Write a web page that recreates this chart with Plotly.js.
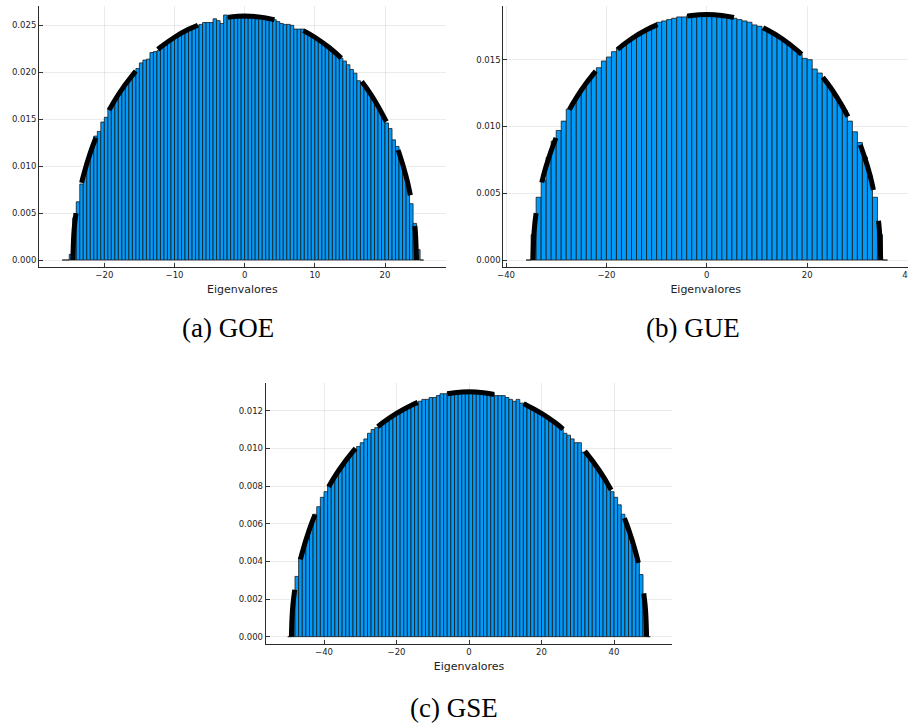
<!DOCTYPE html>
<html>
<head>
<meta charset="utf-8">
<script src="https://cdn.plot.ly/plotly-3.0.1.min.js"></script>
<style>
  html, body { margin: 0; padding: 0; background: #ffffff; }
  #chart { width: 908px; height: 726px; }
</style>
</head>
<body>
<div id="chart"></div>
<script>
// Normalised eigenvalue histograms for the three Gaussian ensembles,
// each with its Wigner semicircle drawn as a thick dashed line.

// GOE: bins of width 0.5 starting at -26
const goeBinStart = -26;
const goeBinWidth = 0.5;
const goeDensity = [
  0, 0, 0.0006, 0.0045, 0.0062, 0.0081, 0.0096, 0.0108, 0.0119, 0.0132,
  0.0137, 0.0147, 0.0152, 0.0162, 0.0167, 0.0173, 0.0179, 0.0184, 0.0190, 0.0194,
  0.0199, 0.0204, 0.0210, 0.0213, 0.0214, 0.0221, 0.0222, 0.0223, 0.0228, 0.0231,
  0.0234, 0.0236, 0.0238, 0.0241, 0.0243, 0.0245, 0.0247, 0.0248, 0.0250, 0.0251,
  0.0253, 0.0253, 0.0253, 0.0257, 0.0255, 0.0252, 0.0261, 0.0259, 0.0258, 0.0258,
  0.0259, 0.0258,
  0.0258, 0.0258, 0.0258, 0.0257, 0.0258, 0.0257, 0.0257, 0.0256, 0.0256, 0.0254,
  0.0252, 0.0251, 0.0251, 0.0250, 0.0246, 0.0246, 0.0246, 0.0244, 0.0241, 0.0239,
  0.0236, 0.0234, 0.0231, 0.0228, 0.0225, 0.0222, 0.0219, 0.0215, 0.0212, 0.0208,
  0.0203, 0.0199, 0.0191, 0.0189, 0.0184, 0.0179, 0.0173, 0.0167, 0.0161, 0.0154,
  0.0146, 0.0140, 0.0128, 0.0121, 0.0109, 0.0096, 0.0082, 0.0060, 0.0039, 0.0011,
  0
];
const goeCurveX = [-24.49, -24.3, -24, -23.5, -23, -22, -21, -20, -18, -16, -14, -12, -10, -8, -6, -4, -2,
  0, 2, 4, 6, 8, 10, 12, 14, 16, 18, 20, 21, 22, 23, 23.5, 24, 24.3, 24.49];
const goeCurveY = [0, 0.00327, 0.00520, 0.00733, 0.00894, 0.01143, 0.01338, 0.01501, 0.01763, 0.01968,
  0.02133, 0.02266, 0.02373, 0.02457, 0.02520, 0.02564, 0.02590, 0.02599,
  0.02590, 0.02564, 0.02520, 0.02457, 0.02373, 0.02266, 0.02133, 0.01968, 0.01763, 0.01501,
  0.01338, 0.01143, 0.00894, 0.00733, 0.00520, 0.00327, 0];

// GUE: bins of width 1 starting at -36
const gueBinStart = -36;
const gueBinWidth = 1;
const gueDensity = [
  0, 0.0019, 0.0047, 0.0060, 0.0077, 0.0089, 0.0097, 0.0104, 0.0113, 0.0118,
  0.0124, 0.0129, 0.0135, 0.0140, 0.0144, 0.0149, 0.0152, 0.0156, 0.0159, 0.0162,
  0.0164, 0.0167, 0.0169, 0.0171, 0.0173, 0.0175, 0.0178, 0.0179, 0.0180, 0.0181,
  0.0182, 0.0182, 0.0183, 0.0183, 0.0184, 0.0183, 0.0183, 0.0183, 0.0182, 0.0182,
  0.0182, 0.0181, 0.0180, 0.0179, 0.0178, 0.0176, 0.0175, 0.0173, 0.0171, 0.0169,
  0.0167, 0.0164, 0.0161, 0.0158, 0.0154, 0.0151, 0.0150, 0.0143, 0.0140, 0.0135,
  0.0130, 0.0124, 0.0118, 0.0112, 0.0104, 0.0096, 0.0088, 0.0077, 0.0063, 0.0047,
  0.0019, 0
];
const gueCurveX = [-34.64, -34.4, -34, -33, -32, -30, -28, -26, -24, -21, -18, -15, -12, -9, -6, -3,
  0, 3, 6, 9, 12, 15, 18, 21, 24, 26, 28, 30, 32, 33, 34, 34.4, 34.64];
const gueCurveY = [0, 0.00216, 0.00352, 0.00559, 0.00704, 0.00919, 0.01082, 0.01214, 0.01325, 0.01462,
  0.01570, 0.01657, 0.01724, 0.01775, 0.01810, 0.01831, 0.01838,
  0.01831, 0.01810, 0.01775, 0.01724, 0.01657, 0.01570, 0.01462, 0.01325, 0.01214, 0.01082,
  0.00919, 0.00704, 0.00559, 0.00352, 0.00216, 0];

// GSE: bins of width 1 starting at -50
const gseBinStart = -50;
const gseBinWidth = 1;
const gseDensity = [
  0, 0.0018, 0.0032, 0.0042, 0.0048, 0.0054, 0.0060, 0.0065, 0.0069, 0.0074,
  0.0077, 0.0080, 0.0084, 0.0087, 0.0090, 0.0092, 0.0095, 0.0097, 0.0099, 0.0101,
  0.0103, 0.0105, 0.0108, 0.0110, 0.0111, 0.0112, 0.0114, 0.0115, 0.0117, 0.0118,
  0.0119, 0.0120, 0.0121, 0.0122, 0.0123, 0.0124, 0.0125, 0.0126, 0.0126, 0.0127,
  0.0127, 0.0128, 0.0129, 0.0129, 0.0130, 0.0129, 0.0130, 0.0129, 0.0130, 0.0129,
  0.0130, 0.0129, 0.0129, 0.0130, 0.0129, 0.0128, 0.0129, 0.0128, 0.0128, 0.0128,
  0.0127, 0.0126, 0.0125, 0.0126, 0.0124, 0.0124, 0.0122, 0.0121, 0.0120, 0.0119,
  0.0118, 0.0117, 0.0115, 0.0114, 0.0112, 0.0111, 0.0108, 0.0107, 0.0105, 0.0103,
  0.0103, 0.0098, 0.0098, 0.0095, 0.0092, 0.0090, 0.0087, 0.0083, 0.0080, 0.0077,
  0.0074, 0.0070, 0.0065, 0.0059, 0.0054, 0.0048, 0.0041, 0.0033, 0.0018, 0
];
const gseCurveX = [-48.99, -48.7, -48, -47, -46, -44, -42, -39, -36, -32, -28, -24, -20, -16, -12, -8, -4,
  0, 4, 8, 12, 16, 20, 24, 28, 32, 36, 39, 42, 44, 46, 47, 48, 48.7, 48.99];
const gseCurveY = [0, 0.00141, 0.00260, 0.00367, 0.00447, 0.00571, 0.00669, 0.00786, 0.00881, 0.00984,
  0.01066, 0.01133, 0.01186, 0.01228, 0.01260, 0.01282, 0.01295, 0.01300,
  0.01295, 0.01282, 0.01260, 0.01228, 0.01186, 0.01133, 0.01066, 0.00984, 0.00881, 0.00786,
  0.00669, 0.00571, 0.00447, 0.00367, 0.00260, 0.00141, 0];

const captions = ['(a) GOE', '(b) GUE', '(c) GSE'];
const axisTitle = 'Eigenvalores';

const BAR_BLUE = '#009AFA';

function binCenters(start, width, n) {
  const out = [];
  for (let i = 0; i < n; i++) out.push(start + width * (i + 0.5));
  return out;
}

function histTrace(start, width, dens, xa, ya) {
  return {
    type: 'bar',
    x: binCenters(start, width, dens.length),
    y: dens,
    width: width,
    marker: { color: BAR_BLUE, line: { color: '#1a1a1a', width: 0.8 } },
    xaxis: xa, yaxis: ya,
    hoverinfo: 'skip'
  };
}

function curveTrace(cx, cy, xa, ya) {
  return {
    type: 'scatter', mode: 'lines',
    x: cx, y: cy,
    line: { color: '#000000', width: 5, dash: '47px,31px', shape: 'spline', smoothing: 1 },
    xaxis: xa, yaxis: ya,
    hoverinfo: 'skip'
  };
}

const data = [
  histTrace(goeBinStart, goeBinWidth, goeDensity, 'x', 'y'),
  curveTrace(goeCurveX, goeCurveY, 'x', 'y'),
  histTrace(gueBinStart, gueBinWidth, gueDensity, 'x2', 'y2'),
  curveTrace(gueCurveX, gueCurveY, 'x2', 'y2'),
  histTrace(gseBinStart, gseBinWidth, gseDensity, 'x3', 'y3'),
  curveTrace(gseCurveX, gseCurveY, 'x3', 'y3')
];

const tickFont = { family: 'DejaVu Sans, sans-serif', size: 8.5, color: '#222222' };

function baseAxis(extra) {
  return Object.assign({
    showline: true, linecolor: '#2a2a2a', linewidth: 1, mirror: false,
    ticks: 'inside', ticklen: 4, tickwidth: 1, tickcolor: '#333333',
    showgrid: true, gridcolor: 'rgba(0,0,0,0.08)', gridwidth: 1,
    zeroline: false, tickfont: tickFont, fixedrange: true
  }, extra);
}

function xTitle() {
  return { text: axisTitle, font: { family: 'DejaVu Sans, sans-serif', size: 11, color: '#222222' }, standoff: 6 };
}

const H = 726, W = 908;
const py = v => 1 - v / H;
const px = v => v / W;

const captionFont = { family: 'Liberation Serif, serif', size: 27, color: '#000000' };

const layout = {
  width: W, height: H,
  margin: { l: 0, r: 0, t: 0, b: 0, pad: 0 },
  paper_bgcolor: '#ffffff', plot_bgcolor: '#ffffff',
  showlegend: false, bargap: 0, barmode: 'overlay',
  font: { family: 'DejaVu Sans, sans-serif' },
  xaxis: baseAxis({ domain: [px(39), px(445.7)], range: [-29.31, 28.65], tickvals: [-20, -10, 0, 10, 20], anchor: 'y', title: xTitle() }),
  yaxis: baseAxis({ domain: [py(266.7), py(6)], range: [-0.000714, 0.02706], tickvals: [0, 0.005, 0.010, 0.015, 0.020, 0.025], tickformat: '.3f', anchor: 'x' }),
  xaxis2: baseAxis({ domain: [px(503.3), 1], range: [-40.54, 40.08], tickvals: [-40, -20, 0, 20, 40], anchor: 'y2', title: xTitle(), ticklabeloverflow: 'allow' }),
  yaxis2: baseAxis({ domain: [py(266.7), py(6)], range: [-0.000499, 0.019019], tickvals: [0, 0.005, 0.010, 0.015], tickformat: '.3f', anchor: 'x2' }),
  xaxis3: baseAxis({ domain: [px(265.67), px(672.33)], range: [-56.09, 56.09], tickvals: [-40, -20, 0, 20, 40], anchor: 'y3', title: xTitle() }),
  yaxis3: baseAxis({ domain: [py(644), py(383.33)], range: [-0.000389, 0.013452], tickvals: [0, 0.002, 0.004, 0.006, 0.008, 0.010, 0.012], tickformat: '.3f', anchor: 'x3' }),
  annotations: [
    { text: captions[0], x: px(228), y: py(328), xref: 'paper', yref: 'paper', xanchor: 'center', yanchor: 'middle', showarrow: false, font: captionFont },
    { text: captions[1], x: px(692.5), y: py(328), xref: 'paper', yref: 'paper', xanchor: 'center', yanchor: 'middle', showarrow: false, font: captionFont },
    { text: captions[2], x: px(454), y: py(708), xref: 'paper', yref: 'paper', xanchor: 'center', yanchor: 'middle', showarrow: false, font: captionFont }
  ]
};

Plotly.newPlot('chart', data, layout, { staticPlot: true, displayModeBar: false });
</script>
</body>
</html>
